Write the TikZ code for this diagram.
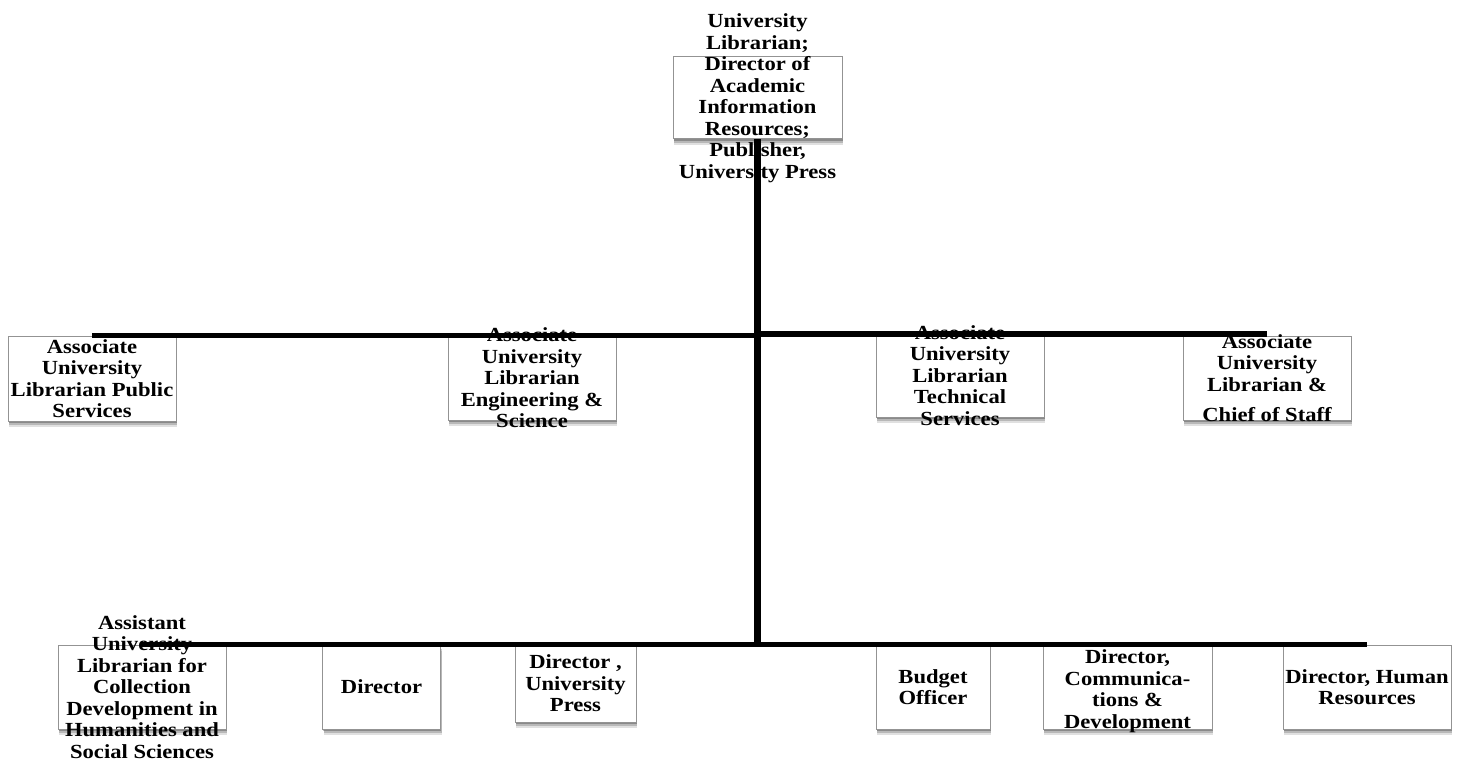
\documentclass[tikz,border=0pt]{standalone}
\usepackage{fontspec}
\setmainfont[FakeStretch=1.13]{Liberation Serif}
\usetikzlibrary{shadows}
\begin{document}
\begin{tikzpicture}[x=1pt,y=-1pt,
  box/.style={draw=gray!85, line width=1pt, fill=white, inner sep=0pt,
    drop shadow={shadow xshift=1pt, shadow yshift=-6pt, opacity=0.12, fill=black},
    drop shadow={shadow xshift=1pt, shadow yshift=-4pt, opacity=0.18, fill=black},
    drop shadow={shadow xshift=0.5pt, shadow yshift=-2pt, opacity=0.25, fill=black}},
  lbl/.style={align=center, inner sep=0pt, font=\bfseries\fontsize{20}{21.5}\selectfont},
  conn/.style={line width=6pt}]
\useasboundingbox (0,0) rectangle (1469,770);
% top
\node[box, minimum width=169pt, minimum height=82pt] (top) at (757.5,98) {};
% level 2
\node[box, minimum width=168pt, minimum height=85pt] (a) at (92,378.5) {};
\node[box, minimum width=168pt, minimum height=84pt] (b) at (532,378) {};
\node[box, minimum width=168pt, minimum height=83pt] (c) at (960,375.5) {};
\node[box, minimum width=168pt, minimum height=84pt] (d) at (1267,378) {};
% level 3
\node[box, minimum width=168pt, minimum height=84pt] (e) at (142,687) {};
\node[box, minimum width=118pt, minimum height=84pt] (f) at (381.5,687) {};
\node[box, minimum width=121pt, minimum height=77pt] (g) at (575.5,683.5) {};
\node[box, minimum width=114pt, minimum height=84pt] (h) at (933,687) {};
\node[box, minimum width=169pt, minimum height=84pt] (i) at (1127.5,687) {};
\node[box, minimum width=168pt, minimum height=84pt] (j) at (1367,687) {};
% texts
\node[lbl] (topt) at (top.center) {University\\Librarian;\\Director of\\Academic\\Information\\Resources;\\Publisher,\\University Press};
\node[lbl] (at) at (a.center) {Associate\\University\\Librarian Public\\Services};
\node[lbl] (bt) at (b.center) {Associate\\University\\Librarian\\Engineering \&\\Science};
\node[lbl] (ct) at (c.center) {Associate\\University\\Librarian\\Technical\\Services};
\node[lbl] (dt) at (d.center) {Associate\\University\\Librarian \&\\[9pt]Chief of Staff};
\node[lbl] (et) at (e.center) {Assistant\\University\\Librarian for\\Collection\\Development in\\Humanities and\\Social Sciences};
\node[lbl] (ft) at (f.center) {Director};
\node[lbl] (gt) at (g.center) {Director ,\\University\\Press};
\node[lbl] (ht) at (h.center) {Budget\\Officer};
\node[lbl] (it) at ([yshift=-4pt]i.center) {Director,\\Communica-\\tions \&\\Development};
\node[lbl] (jt) at (j.center) {Director, Human\\Resources};
% connectors
\coordinate (j2l) at (757.5,335.5);
\coordinate (j2r) at (757.5,334);
\coordinate (j3) at (757.5,644.5);
\draw[conn, line width=6.5pt] (top.south) -- (top.south |- j3);
\draw[conn, line width=5pt] (a.north |- j2l) -- (j2l);
\draw[conn] (j2r) -- (d.north |- j2r);
\draw[conn, line width=5pt] (e.north |- j3) -- (j.north |- j3);
\end{tikzpicture}
\end{document}
